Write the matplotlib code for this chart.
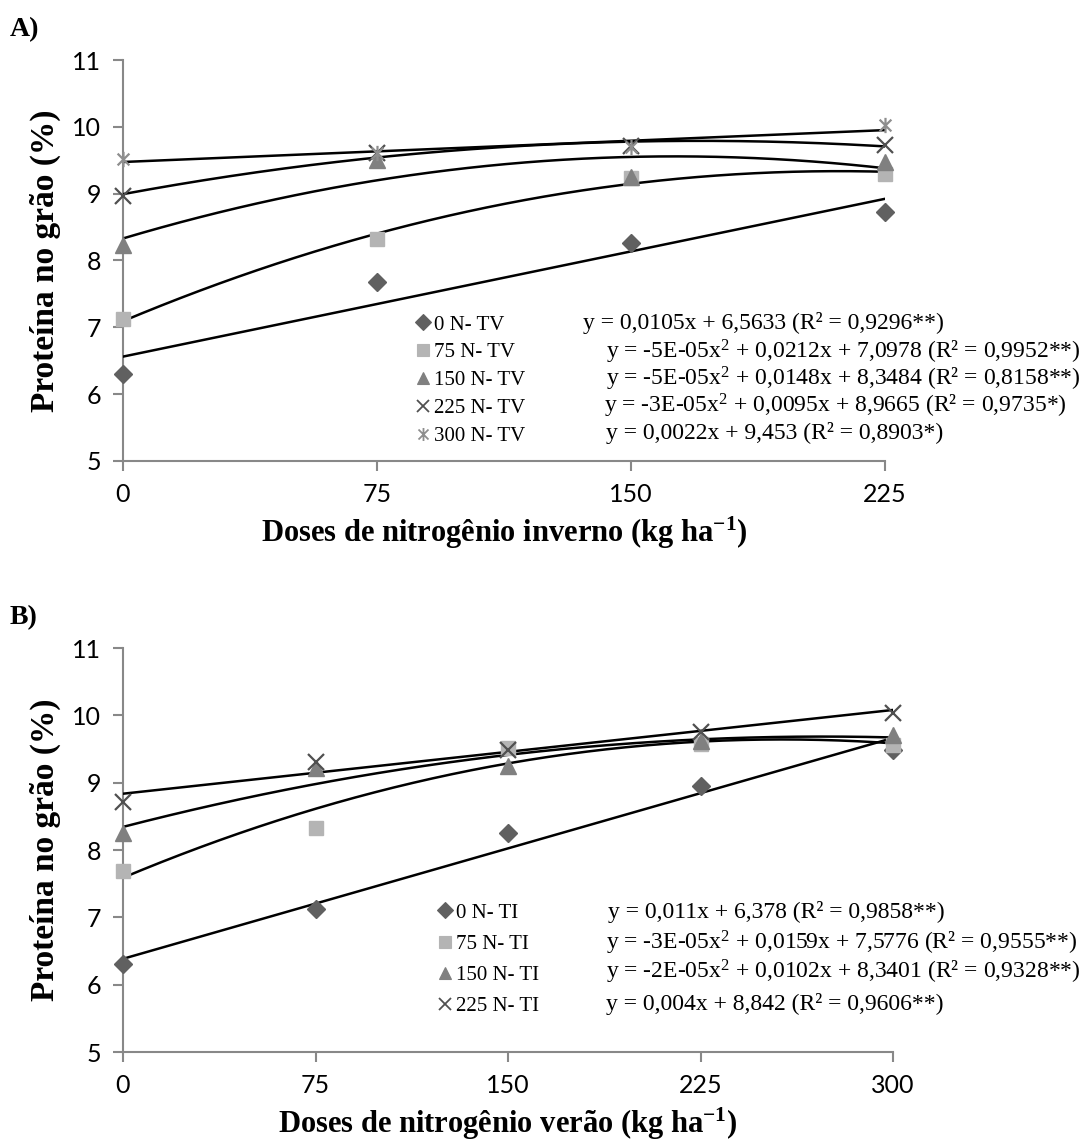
import matplotlib.pyplot as plt
import numpy as np
from matplotlib.path import Path
from matplotlib.lines import Line2D

plt.rcParams["mathtext.fontset"] = "custom"
plt.rcParams["mathtext.rm"] = "Liberation Serif"
plt.rcParams["mathtext.it"] = "Liberation Serif:italic"
plt.rcParams["mathtext.bf"] = "Liberation Serif:bold"

# Panel A: doses de nitrogênio inverno, one series per summer dose
doses_a = [0, 75, 150, 225]
labels_a = ["0 N- TV", "75 N- TV", "150 N- TV", "225 N- TV", "300 N- TV"]
prot_a_0 = [6.30, 7.68, 8.26, 8.73]
prot_a_75 = [7.12, 8.32, 9.23, 9.30]
prot_a_150 = [8.23, 9.50, 9.25, 9.48]
prot_a_225 = [8.97, 9.61, 9.71, 9.73]
prot_a_300 = [9.52, 9.61, 9.70, 10.02]
deg_a = [1, 2, 2, 2, 1]
eq_a = [
    "y = 0,0105x + 6,5633 (R\u00b2 = 0,9296**)",
    "y = -5E-05x$^{2}$ + 0,0212x + 7,0978 (R\u00b2 = 0,9952**)",
    "y = -5E-05x$^{2}$ + 0,0148x + 8,3484 (R\u00b2 = 0,8158**)",
    "y = -3E-05x$^{2}$ + 0,0095x + 8,9665 (R\u00b2 = 0,9735*)",
    "y = 0,0022x + 9,453 (R\u00b2 = 0,8903*)",
]

# Panel B: doses de nitrogênio verão, one series per winter dose
doses_b = [0, 75, 150, 225, 300]
labels_b = ["0 N- TI", "75 N- TI", "150 N- TI", "225 N- TI"]
prot_b_0 = [6.30, 7.13, 8.25, 8.95, 9.49]
prot_b_75 = [7.69, 8.33, 9.52, 9.58, 9.56]
prot_b_150 = [8.25, 9.22, 9.25, 9.62, 9.71]
prot_b_225 = [8.71, 9.30, 9.49, 9.75, 10.04]
deg_b = [1, 2, 2, 1]
eq_b = [
    "y = 0,011x + 6,378 (R\u00b2 = 0,9858**)",
    "y = -3E-05x$^{2}$ + 0,0159x + 7,5776 (R\u00b2 = 0,9555**)",
    "y = -2E-05x$^{2}$ + 0,0102x + 8,3401 (R\u00b2 = 0,9328**)",
    "y = 0,004x + 8,842 (R\u00b2 = 0,9606**)",
]

# asterisk marker: an X with a vertical stroke
ast = Path([(-1, -1), (1, 1), (-1, 1), (1, -1), (0, -1.3), (0, 1.3)],
           [Path.MOVETO, Path.LINETO, Path.MOVETO, Path.LINETO, Path.MOVETO, Path.LINETO])

styles = [
    dict(marker="D", color="#606060", ms=9),
    dict(marker="s", color="#b4b4b4", ms=10),
    dict(marker="^", color="#808080", ms=11),
    dict(marker="x", color="#505050", ms=11, mew=1.6),
    dict(marker=ast, color="#8e8e8e", ms=11, mew=1.6),
]

serif = "Liberation Serif"
tick_font = "Lato"


def draw_panel(ax, doses, series, degs, labels, eqs, xmax, eq_pos, leg_anchor, spacing):
    xs = np.linspace(0, xmax, 200)
    for vals, d in zip(series, degs):
        coef = np.polyfit(doses, vals, d)
        ax.plot(xs, np.polyval(coef, xs), color="black", lw=1.8, zorder=3)
    handles = []
    for vals, st, lab in zip(series, styles, labels):
        st = dict(st)
        mk = st.pop("marker")
        c = st.pop("color")
        ms = st.pop("ms")
        mew = st.pop("mew", 1.0)
        if mk == "x" or mk is ast:
            kw = dict(mfc="none", mec=c)
        else:
            kw = dict(mfc=c, mec=c)
        ax.plot(doses, vals, ls="none", marker=mk, ms=ms, mew=mew, clip_on=False, zorder=4, **kw)
        handles.append(Line2D([], [], ls="none", marker=mk, ms=ms * 0.85, mew=mew * 0.8, label=lab, **kw))
    ax.legend(handles=handles, loc="upper left", bbox_to_anchor=leg_anchor, frameon=False,
              borderpad=0, borderaxespad=0, handlelength=0.7, handletextpad=0.15,
              labelspacing=spacing, prop=dict(family=serif, size=15))
    for (x, y), t in zip(eq_pos, eqs):
        ax.text(x, y, t, transform=ax.transAxes, family=serif, fontsize=17, va="center", ha="left")

    ax.set_xlim(0, xmax)
    ax.set_ylim(5, 11)
    ax.set_xticks(doses)
    ax.set_yticks([5, 6, 7, 8, 9, 10, 11])
    for s in ("top", "right"):
        ax.spines[s].set_visible(False)
    for s in ("left", "bottom"):
        ax.spines[s].set_color("#888888")
        ax.spines[s].set_linewidth(1.5)
    ax.tick_params(direction="out", length=7, width=1.5, color="#888888", labelsize=18, pad=9)
    for lb in ax.get_xticklabels() + ax.get_yticklabels():
        lb.set_family(tick_font)
    ax.set_ylabel("Proteína no grão (%)", family=serif, fontweight="bold", fontsize=24, labelpad=8)


fig = plt.figure(figsize=(10.89, 11.42), dpi=100)

ax_a = fig.add_axes([123 / 1089, 1 - 461 / 1142, 762 / 1089, 401 / 1142])
pos_a = [(583, 323), (606, 352), (606, 379), (604, 406), (606, 433)]
pos_a = [((x - 123) / 762, (461 - y) / 401) for x, y in pos_a]
draw_panel(ax_a, doses_a, [prot_a_0, prot_a_75, prot_a_150, prot_a_225, prot_a_300],
           deg_a, labels_a, eq_a, 225, pos_a, ((416 - 123) / 762, (461 - 315) / 401), 0.40)
ax_a.set_xlabel("Doses de nitrogênio inverno (kg ha$^{\\mathbf{-1}}$)", family=serif,
                fontweight="bold", fontsize=22, labelpad=6)

ax_b = fig.add_axes([123 / 1089, 1 - 1052 / 1142, 770 / 1089, 404 / 1142])
pos_b = [(608, 912), (606, 943), (606, 972), (606, 1004)]
pos_b = [((x - 123) / 770, (1052 - y) / 404) for x, y in pos_b]
draw_panel(ax_b, doses_b, [prot_b_0, prot_b_75, prot_b_150, prot_b_225],
           deg_b, labels_b, eq_b, 300, pos_b, ((438 - 123) / 770, (1052 - 903) / 404), 0.56)
ax_b.set_xlabel("Doses de nitrogênio verão (kg ha$^{\\mathbf{-1}}$)", family=serif,
                fontweight="bold", fontsize=22, labelpad=6)

fig.text(10 / 1089, 1 - 30 / 1142, "A)", family=serif, fontweight="bold", fontsize=20, va="center")
fig.text(10 / 1089, 1 - 618 / 1142, "B)", family=serif, fontweight="bold", fontsize=20, va="center")

fig.savefig("out.png", dpi=100)
